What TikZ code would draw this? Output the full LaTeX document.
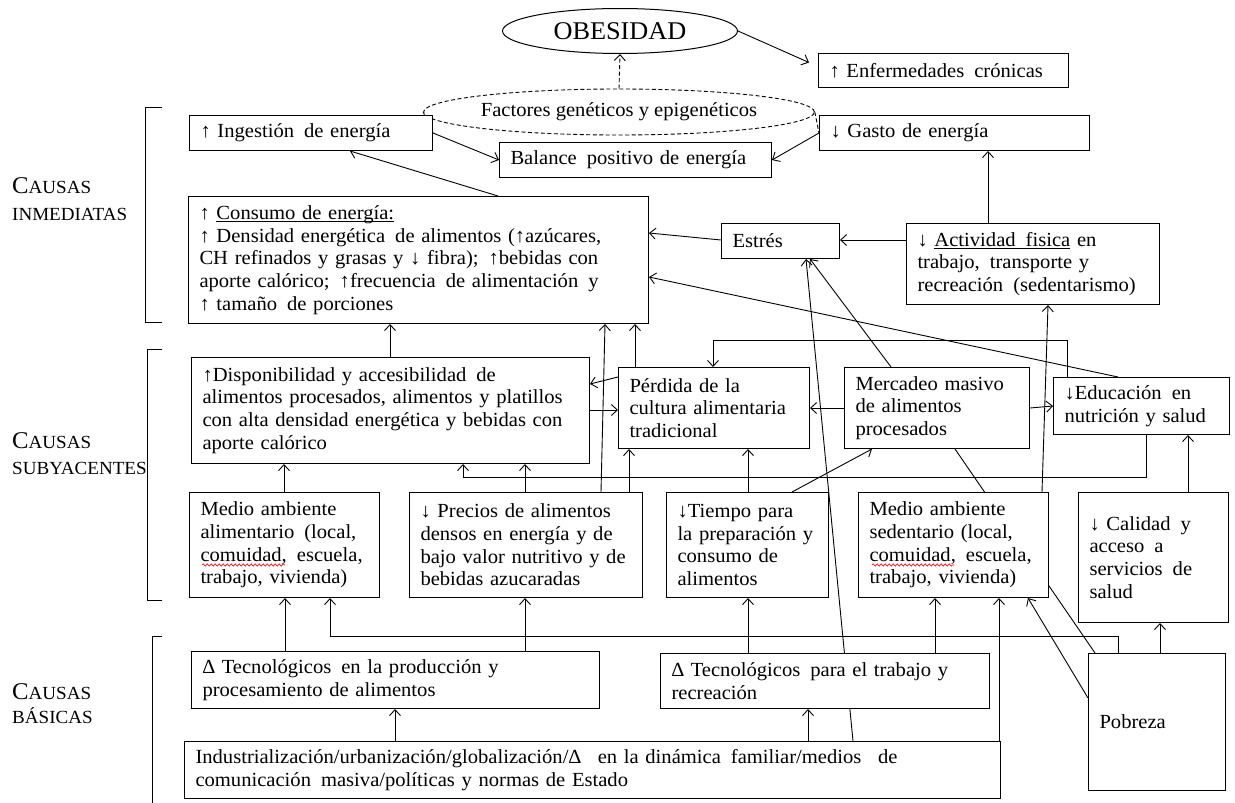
\documentclass[tikz,border=0pt]{standalone}
\usepackage{fontspec}
\setmainfont{Liberation Serif}[FakeStretch=1.03]
\usetikzlibrary{positioning,arrows.meta,calc,shapes.geometric,backgrounds,decorations.pathmorphing}

\newcommand{\cuerpo}{\fontsize{20}{22.75}\selectfont}
\newcommand{\versal}[1]{{\fontsize{18.5}{20}\selectfont #1}}
\newcommand{\subr}[1]{\setbox0\hbox{#1}\rlap{\rule[-2.5pt]{\wd0}{0.9pt}}\box0\relax}

\tikzset{
  caja/.style={draw, fill=white, anchor=north west, align=left, inner xsep=11pt, inner ysep=2pt, font=\cuerpo, line width=1pt},
  flecha/.style={-{Straight Barb[length=6pt,width=11pt]}, line width=0.9pt},
  linea/.style={line width=0.9pt},
  rayas/.style={dash pattern=on 4pt off 2.5pt, line width=0.9pt},
  ondas/.style={red, line width=0.6pt, decorate, decoration={snake, amplitude=1.2pt, segment length=4pt}},
  etiqueta/.style={anchor=base west, inner sep=0pt, font=\fontsize{24}{26}\selectfont}
}

\begin{document}
\begin{tikzpicture}[x=1pt,y=-1pt]
  \useasboundingbox (0,0) rectangle (1235,803);

  % causas inmediatas
  \node[ellipse, draw, fill=white, line width=1pt, minimum width=235pt, minimum height=45pt, inner sep=0pt, font=\fontsize{25.5}{28}\selectfont] (obes) at (620,31) {OBESIDAD};
  \node[caja, minimum height=34pt, text width=228pt] (enf) at (818,53) {↑ Enfermedades\, crónicas};
  \node[ellipse, draw, rayas, fill=white, minimum width=338pt, minimum height=46pt, inner sep=0pt, font=\cuerpo] (fact) at (619,112) {Factores genéticos y epigenéticos};
  \node[caja, minimum height=35pt, text width=221pt] (ing) at (189,115) {↑ Ingestión\, de energía};
  \node[caja, minimum height=35pt, text width=250pt] (bal) at (499,142) {Balance\, positivo de energía};
  \node[caja, minimum height=35pt, text width=248pt] (gasto) at (819,115) {↓ Gasto de energía};
  \node[caja, minimum height=127pt, text width=438pt] (cons) at (188,196) {↑ \subr{Consumo de energía:}\\
    ↑ Densidad energética\, de alimentos (↑azúcares,\\
    CH refinados y grasas y ↓ fibra);\, ↑bebidas con\\
    aporte calórico;\, ↑frecuencia\, de alimentación\, y\\
    ↑ tamaño\, de porciones};
  \node[caja, minimum height=35pt, text width=96pt] (estres) at (721,223) {Estrés};
  \node[caja, minimum height=81pt, text width=231pt] (act) at (906,223) {↓ \subr{Actividad\, fisica} en\\
    trabajo,\, transporte y\\
    recreación\, (sedentarismo)};

  % causas subyacentes
  \node[caja, minimum height=106pt, text width=376pt] (disp) at (191,357) {↑Disponibilidad y accesibilidad\, de\\
    alimentos procesados, alimentos y platillos\\
    con alta densidad energética y bebidas con\\
    aporte calórico};
  \node[caja, minimum height=81pt, text width=169pt] (perd) at (618,367) {Pérdida de la\\ cultura alimentaria\\ tradicional};
  \node[caja, minimum height=81pt, text width=163pt] (merc) at (844,367) {Mercadeo masivo\\ de alimentos\\ procesados};
  \node[caja, minimum height=57pt, text width=154pt] (educ) at (1053,377) {↓Educación\, en\\ nutrición y salud};
  \node[caja, minimum height=105pt, text width=168pt] (medali) at (189,492) {Medio ambiente\\ alimentario\, (local,\\ comuidad,\, escuela,\\ trabajo, vivienda)};
  \node[caja, minimum height=105pt, text width=211pt] (prec) at (409,492) {↓ Precios de alimentos\\ densos en energía y de\\ bajo valor nutritivo y de\\ bebidas azucaradas};
  \node[caja, minimum height=105pt, text width=140pt] (tiempo) at (666,492) {↓Tiempo para\\ la preparación y\\ consumo de\\ alimentos};
  \node[caja, minimum height=105pt, text width=168pt] (medsed) at (858,492) {Medio ambiente\\ sedentario (local,\\ comuidad,\, escuela,\\ trabajo, vivienda)};
  \node[caja, minimum height=130pt, text width=128pt] (cal) at (1078,492) {↓ Calidad\, y\\ acceso\, a\\ servicios\, de\\ salud};
  \draw[ondas] (202,565) -- (285,565);
  \draw[ondas] (872,565) -- (954,565);

  % causas basicas
  \node[caja, minimum height=57pt, text width=386pt] (dprod) at (191,651) {∆ Tecnológicos\, en la producción y\\ procesamiento de alimentos};
  \node[caja, minimum height=55pt, text width=307pt] (dtrab) at (660,653) {∆ Tecnológicos\, para el trabajo y\\ recreación};
  \node[caja, minimum height=57pt, text width=794pt] (ind) at (184,741) {Industrialización/urbanización/globalización/∆\, \ en la dinámica\, familiar/medios\, \ de\\ comunicación\, masiva/políticas y normas de Estado};
  \node[caja, minimum height=137pt, text width=115pt] (pob) at (1088,653) {Pobreza};

  % etiquetas de nivel
  \node[etiqueta] (inma) at (12,193) {C\versal{AUSAS}};
  \node[etiqueta] (inmb) at (12,220) {\versal{INMEDIATAS}};
  \node[etiqueta] (suba) at (12,448) {C\versal{AUSAS}};
  \node[etiqueta] (subb) at (12,474) {\versal{SUBYACENTES}};
  \node[etiqueta] (basa) at (12,699) {C\versal{AUSAS}};
  \node[etiqueta] (basb) at (12,723) {\versal{BÁSICAS}};
  \draw[linea] (162,107) -- (145,107) -- (145,322) -- (162,322);
  \draw[linea] (162,349) -- (147,349) -- (147,600) -- (162,600);
  \draw[linea] (162,636) -- (152,636) -- (152,803);

  \begin{scope}[on background layer]
    \draw[flecha] (obes.east) -- ([xshift=-9pt,yshift=8pt]enf.west);
    \draw[rayas,-{Straight Barb[length=6pt,width=11pt]}] (fact.north) -- (obes.south);
    \draw[rayas] (fact.west) -- (ing.east);
    \draw[rayas] (fact.east) -- (gasto.west);
    \draw[flecha] (ing.east) -- (bal.west);
    \draw[flecha] (gasto.west) -- (bal.east);
    \draw[flecha] (cons.north -| 498,0) -- (ing.south -| 350,0);
    \draw[flecha] (estres.west |- 0,240) -- (cons.east |- 0,233);
    \draw[flecha] (act.west |- 0,240) -- (estres.east |- 0,240);
    \draw[flecha] (act.north -| 988,0) -- (gasto.south -| 988,0);
    \draw[flecha] (educ.north -| 1118,0) -- (cons.east |- 0,277);
    % hacia consumo
    \draw[flecha] (disp.north -| 390,0) -- (cons.south -| 390,0);
    \draw[flecha] (prec.north -| 601,0) -- (cons.south -| 605,0);
    \draw[flecha] (perd.north -| 635,0) -- (cons.south -| 635,0);
    % subyacentes
    \draw[flecha] (prec.north -| 629,0) -- (perd.south -| 629,0);
    \draw[flecha] (disp.east |- 0,410) -- (perd.west |- 0,410);
    \draw[flecha] (perd.west |- 0,377) -- (disp.east |- 0,384);
    \draw[flecha] (merc.west |- 0,408) -- (perd.east |- 0,408);
    \draw[flecha] (merc.east |- 0,408) -- (educ.west |- 0,406);
    \draw[flecha] (educ.north -| 1067,0) -- ++(0,-37) -| (perd.north -| 713,0);
    \draw[flecha] (educ.south -| 1146,0) -- ++(0,42) -| (disp.south -| 463,0);
    \draw[flecha] (merc.north -| 891,0) -- (estres.south -| 810,0);
    \draw[flecha] (ind.north -| 853,0) -- (estres.south -| 806,0);
    \draw[flecha] (tiempo.north -| 748,0) -- (perd.south -| 748,0);
    \draw[flecha] (tiempo.north -| 792,0) -- (merc.south -| 872,0);
    \draw[flecha] (medali.north -| 284,0) -- (disp.south -| 284,0);
    \draw[flecha] (prec.north -| 525,0) -- (disp.south -| 525,0);
    \draw[flecha] (medsed.north -| 1042,0) -- (act.south -| 1048,0);
    \draw[flecha] (cal.north -| 1188,0) -- (educ.south -| 1188,0);
    % desde pobreza
    \draw[linea] (pob.north -| 1095,0) -- (merc.south -| 955,0);
    \draw[flecha] (pob.north -| 1118,0) -- ++(0,-17) -| (medali.south -| 330,0);
    \draw[flecha] (pob.north -| 1160,0) -- (cal.south -| 1160,0);
    \draw[flecha] (pob.west |- 0,698) -- (medsed.south -| 1028,0);
    % basicas
    \draw[flecha] (dtrab.north -| 935,0) -- (medsed.south -| 935,0);
    \draw[flecha] (ind.north -| 999,0) -- (medsed.south -| 999,0);
    \draw[flecha] (dtrab.north -| 748,0) -- (tiempo.south -| 748,0);
    \draw[flecha] (dprod.north -| 525,0) -- (prec.south -| 525,0);
    \draw[flecha] (dprod.north -| 285,0) -- (medali.south -| 285,0);
    \draw[flecha] (ind.north -| 395,0) -- (dprod.south -| 395,0);
    \draw[flecha] (ind.north -| 808,0) -- (dtrab.south -| 808,0);
  \end{scope}
\end{tikzpicture}
\end{document}
